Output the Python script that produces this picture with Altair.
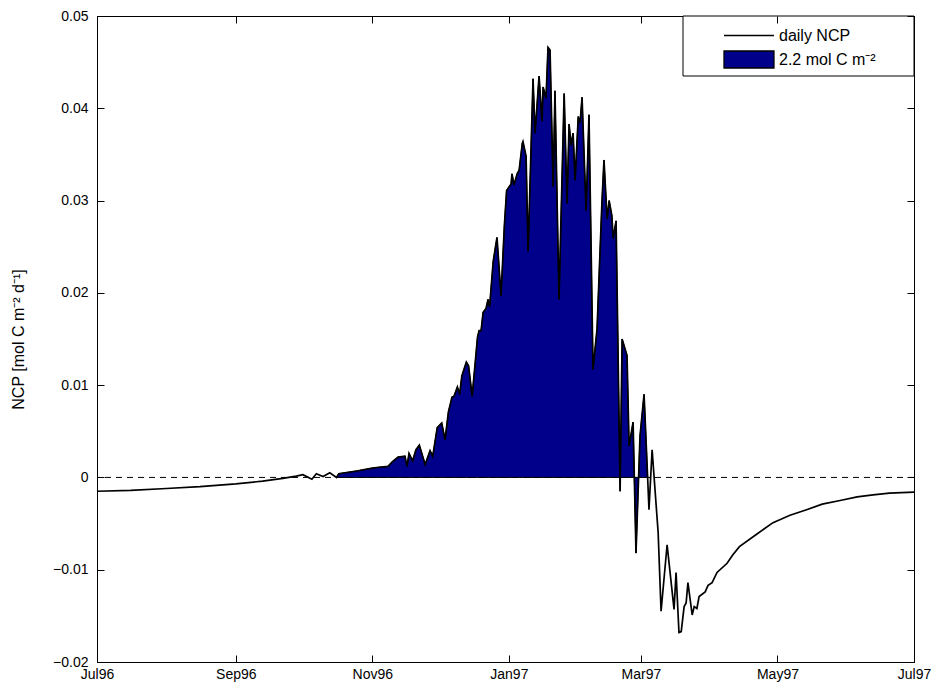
import altair as alt
import pandas as pd

# ---------------- data ----------------
BASE_DATE = "1996-07-01"

# day offsets from 1 Jul 1996 and daily NCP values (mol C m-2 d-1)
day_offset = [
    0, 15, 31, 46, 62, 74, 83, 89, 92, 96, 98, 101, 104, 107, 108,
    116, 123, 126, 130, 132, 134.5, 137.6, 138.5, 139.4, 141, 142.5, 144,
    146.6, 148.8, 150, 152, 154, 155.5, 157, 158.6, 159.5, 161, 162, 163,
    165, 166, 167.6, 170, 170.7, 171.6, 172.5, 173.8, 174.7, 175.4, 177,
    178.7, 180.5, 182, 183, 185, 185.4, 186.3, 187.7, 188.6, 190, 190.3,
    191.7, 192.6, 194.8, 195.7, 197.5, 198.8, 199.3, 200.6, 201.5, 202.4,
    203.8, 204.6, 206.4, 208.7, 210, 210.9, 211.8, 212.7, 213.6, 215,
    215.8, 216.7, 218.5, 219.8, 221.6, 223.4, 225.6, 226.5, 227.9, 228.8,
    230, 230.6, 231.9, 233.7, 234.6, 236.8, 237.7, 239.5, 240.8, 242.6,
    244.4, 246, 246.6, 248, 250.7, 252, 254.7, 257.8, 258.7, 260, 261,
    262.3, 263.2, 264, 265.9, 266.8, 268, 269, 271.7, 273, 274.8, 277,
    281.5, 284, 287, 295, 302, 309.6, 317, 324, 332, 339.6, 346.7, 354, 365,
]
ncp = [
    -0.0015, -0.0014, -0.0012, -0.0010, -0.0007, -0.0004, -0.0001, 0.00015,
    0.0003, -0.0002, 0.0004, 0.0001, 0.0005, 0.0, 0.0004,
    0.0007, 0.0010, 0.0011, 0.0012, 0.0017, 0.0022, 0.0023, 0.0012, 0.0026,
    0.0018, 0.0030, 0.0035, 0.0014, 0.0029, 0.0023, 0.0054, 0.0059, 0.0041,
    0.0071, 0.0087, 0.0088, 0.0098, 0.0090, 0.0110, 0.0125, 0.0121, 0.0088,
    0.0152, 0.0159, 0.0159, 0.0179, 0.0183, 0.0193, 0.0185, 0.0234, 0.0260,
    0.0197, 0.0273, 0.0311, 0.0318, 0.0329, 0.0317, 0.0329, 0.0333, 0.0362,
    0.0364, 0.0348, 0.0245, 0.0432, 0.0373, 0.0435, 0.0386, 0.0423, 0.0411,
    0.0466, 0.0463, 0.0315, 0.0419, 0.0193, 0.0416, 0.0297, 0.0383, 0.0360,
    0.0373, 0.0322, 0.0391, 0.0384, 0.0412, 0.0289, 0.0393, 0.0117, 0.0161,
    0.0299, 0.0344, 0.0280, 0.0300, 0.0284, 0.0259, 0.0278, -0.0015, 0.0150,
    0.0132, 0.0034, 0.0060, -0.0082, 0.0045, 0.0090, 0.0, -0.0035, 0.0030,
    -0.0060, -0.0145, -0.0073, -0.0143, -0.0103, -0.0168, -0.0167, -0.0140,
    -0.0136, -0.0114, -0.0149, -0.0140, -0.0142, -0.0129, -0.0124, -0.0117,
    -0.0114, -0.0103, -0.0093, -0.0084, -0.0075, -0.0061, -0.0049, -0.0041,
    -0.0035, -0.0029, -0.0025, -0.0021, -0.0019, -0.0017, -0.0016,
]
fill_start_day = 107
fill_end_day = 246

x_tick_dates = ["1996-07-01", "1996-09-01", "1996-11-01", "1997-01-01",
                "1997-03-01", "1997-05-01", "1997-07-01"]
y_ticks = [-0.02, -0.01, 0.0, 0.01, 0.02, 0.03, 0.04, 0.05]
legend_labels = ["daily NCP", "2.2 mol C m\u207b\u00b2"]
y_title = "NCP [mol C m\u207b\u00b2 d\u207b\u00b9]"

NAVY = "#00008B"
FONT = "Liberation Sans"

# ---------------- build table ----------------
dates = (pd.Timestamp(BASE_DATE) + pd.to_timedelta(day_offset, unit="D")).strftime("%Y-%m-%dT%H:%M:%S")
df = pd.DataFrame({"date": list(dates), "day": day_offset, "ncp": ncp})


def dt(s):
    t = pd.Timestamp(s)
    return alt.DateTime(year=t.year, month=t.month, date=t.day)


PLOT_W, PLOT_H = 817, 646
xscale = alt.Scale(domain=[dt(x_tick_dates[0]), dt(x_tick_dates[-1])])
yscale = alt.Scale(domain=[y_ticks[0], y_ticks[-1]], nice=False, zero=False)

TICK = 7
ylab_expr = "datum.value == 0 ? '0' : format(datum.value, '.2f')"

bottom_axis = alt.Axis(values=[dt(d) for d in x_tick_dates], format="%b%y", title="",
                       orient="bottom", offset=-TICK, tickSize=TICK, domain=False,
                       grid=False, labelPadding=5, labelFontSize=14, labelFont=FONT,
                       labelColor="black", tickColor="black", labelFlush=False, zindex=1)
left_axis = alt.Axis(values=y_ticks, labelExpr=ylab_expr, title=y_title, orient="left",
                     offset=-TICK, tickSize=TICK, domain=False, grid=False,
                     labelPadding=9, labelFontSize=14, labelFont=FONT, labelColor="black",
                     tickColor="black", titleFont=FONT, titleFontSize=16,
                     titleFontWeight="normal", titleColor="black", titlePadding=26,
                     labelFlush=False, zindex=1)
top_axis = alt.Axis(values=[dt(d) for d in x_tick_dates], title="", orient="top",
                    offset=-TICK, tickSize=TICK, domain=False, grid=False, labels=False,
                    tickColor="black", zindex=1)
right_axis = alt.Axis(values=y_ticks, title="", orient="right", offset=-TICK,
                      tickSize=TICK, domain=False, grid=False, labels=False,
                      tickColor="black", zindex=1)

zero_line = alt.Chart(pd.DataFrame({"zero": [0.0]})).mark_rule(
    color="black", strokeDash=[6, 5], strokeWidth=1
).encode(y=alt.Y("zero:Q", scale=yscale, axis=None))

area = alt.Chart(df).transform_filter(
    f"datum.day >= {fill_start_day} && datum.day <= {fill_end_day}"
).mark_area(color=NAVY, stroke="black", strokeWidth=1, opacity=1).encode(
    x=alt.X("date:T", scale=xscale, axis=None),
    y=alt.Y("ncp:Q", scale=yscale, axis=None),
)

line = alt.Chart(df).mark_line(color="black", strokeWidth=1.7).encode(
    x=alt.X("date:T", scale=xscale, axis=bottom_axis),
    y=alt.Y("ncp:Q", scale=yscale, axis=left_axis),
)

frame_axes = alt.Chart(df).mark_line(opacity=0).encode(
    x=alt.X("date:T", scale=xscale, axis=top_axis),
    y=alt.Y("ncp:Q", scale=yscale, axis=right_axis),
)

# legend frame (layout decoration in the plot's top-right corner)
legend_box = alt.Chart(pd.DataFrame({"box": [0]})).mark_rect(
    fill="white", stroke="black", strokeWidth=1
).encode(x=alt.value(586), x2=alt.value(PLOT_W), y=alt.value(0), y2=alt.value(60))

LINE_PATH = "M-1,0H4.88"
RECT_PATH = "M-1,-1H4.88V1H-1Z"
leg = alt.Legend(title=None, orient="none", legendX=586, legendY=0, padding=10,
                 symbolSize=289, symbolStrokeColor="black", symbolStrokeWidth=1.3,
                 labelFont=FONT, labelFontSize=16, labelColor="black",
                 labelOffset=37, rowPadding=4, symbolOffset=30)

legend_df = pd.DataFrame({"series": legend_labels, "date": [dates[0]] * 2, "ncp": [0.0, 0.0]})
legend_layer = alt.Chart(legend_df).transform_filter("false").mark_point(
    filled=True, stroke="black", strokeWidth=1.3, opacity=1
).encode(
    x=alt.X("date:T", scale=xscale, axis=None),
    y=alt.Y("ncp:Q", scale=yscale, axis=None),
    color=alt.Color("series:N", scale=alt.Scale(domain=legend_labels, range=["black", NAVY]), legend=leg),
    shape=alt.Shape("series:N", scale=alt.Scale(domain=legend_labels, range=[LINE_PATH, RECT_PATH]), legend=leg),
)

chart = alt.layer(zero_line, area, line, frame_axes, legend_box, legend_layer).resolve_axis(
    x="independent", y="independent"
).properties(
    width=PLOT_W, height=PLOT_H,
    autosize=alt.AutoSizeParams(type="none"),
    padding={"left": 89, "top": 8, "right": 18, "bottom": 23},
    background="white",
).configure_view(stroke="black", strokeWidth=1)

chart.save("out.html", embed_options={"renderer": "svg", "actions": False})
